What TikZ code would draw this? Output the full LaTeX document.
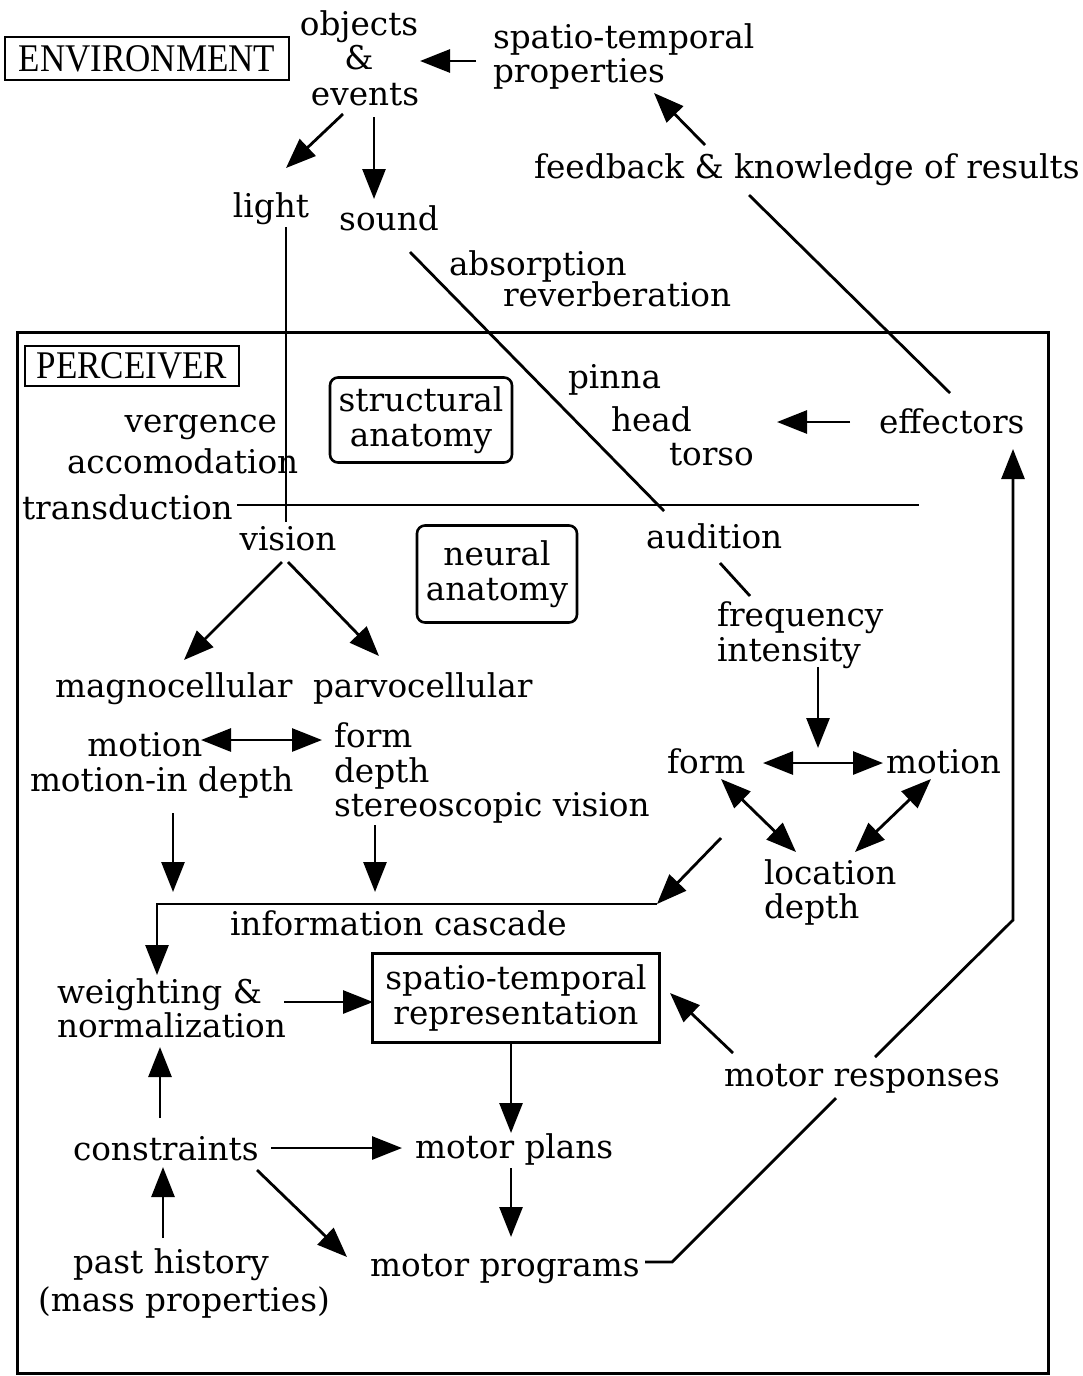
\documentclass[tikz,border=0pt]{standalone}
\usepackage{fontspec}
\setmainfont{DejaVu Serif}
\newfontfamily\capsfont{Liberation Serif}
\usetikzlibrary{arrows.meta}
\newcommand{\tallcaps}[1]{\scalebox{1}[1.12]{#1}}

\begin{document}
\begin{tikzpicture}[x=1pt,y=-1pt,
  every node/.style={inner sep=0pt, outer sep=0pt},
  lbl/.style={font=\fontsize{32.7}{35}\selectfont, text height=24pt, text depth=7pt},
  wl/.style={lbl, anchor=west},
  el/.style={lbl, anchor=east},
  cl/.style={lbl, anchor=center},
  tagbox/.style={draw, line width=2.8pt, font=\capsfont\fontsize{35}{38}\selectfont},
  anabox/.style={draw, line width=2.6pt, rounded corners=8pt, align=center,
                 font=\fontsize{32.7}{35}\selectfont},
  repbox/.style={draw, line width=3pt, align=center, font=\fontsize{32.7}{35}\selectfont},
  link/.style={line width=2.8pt},
  arr/.style={link, -{Triangle[length=30pt,width=23pt]}},
  darr/.style={link, {Triangle[length=30pt,width=23pt]}-{Triangle[length=30pt,width=23pt]}},
]
\fill[white] (0,0) rectangle (1083,1376);
\useasboundingbox (0,0) rectangle (1083,1376);

% ---------- environment ----------
\node[tagbox, minimum width=284pt, minimum height=43pt] (env) at (147,58.5) {\tallcaps{ENVIRONMENT}};
\node[cl] (objects) at (359,27) {objects};
\node[cl] (amp) at (359,61) {\&};
\node[cl] (events) at (365,97) {events};
\node[wl] (sp1) at (493,40) {spatio-temporal};
\node[wl] (sp2) at (493,74) {properties};
\node[wl] (fb) at (534,170) {feedback \& knowledge of results};
\node[cl] (light) at (271,209) {light};
\node[cl] (sound) at (389,222) {sound};
\node[wl] (absorp) at (449,267) {absorption};
\node[wl] (reverb) at (503,298) {reverberation};

% ---------- perceiver ----------
\draw[line width=3pt] (17,332) rectangle (1048,1373);
\node[tagbox, minimum width=214pt, minimum height=40pt] (perc) at (132,366) {\tallcaps{PERCEIVER}};
\node[anabox, minimum width=182pt, minimum height=85pt] (struct) at (421,420) {structural\\anatomy};
\node[el] (verg) at (277,424) {vergence};
\node[wl] (accom) at (67,465) {accomodation};
\node[wl] (transd) at (22,511) {transduction};
\node[wl] (pinna) at (568,380) {pinna};
\node[wl] (head) at (611,423) {head};
\node[wl] (torso) at (669,457) {torso};
\node[wl] (effect) at (879,425) {effectors};

\node[cl] (vision) at (288,542) {vision};
\node[anabox, minimum width=160pt, minimum height=97pt] (neural) at (497,574) {neural\\anatomy};
\node[wl] (audition) at (646,540) {audition};
\node[wl] (freq) at (717,618) {frequency};
\node[wl] (inten) at (717,653) {intensity};
\node[wl] (magno) at (55,689) {magnocellular};
\node[wl] (parvo) at (313,689) {parvocellular};

\node[cl] (motion) at (145,748) {motion};
\node[wl] (mid) at (30,783) {motion-in depth};
\node[wl] (form) at (334,739) {form};
\node[wl] (depth) at (334,774) {depth};
\node[wl] (stereo) at (334,808) {stereoscopic vision};
\node[wl] (aform) at (667,765) {form};
\node[wl] (amotion) at (886,765) {motion};
\node[wl] (loc) at (764,876) {location};
\node[wl] (adepth) at (764,910) {depth};

\node[wl] (cascade) at (230,927) {information cascade};
\node[wl] (weight) at (57,995) {weighting \&};
\node[wl] (norm) at (57,1029) {normalization};
\node[repbox, minimum width=287pt, minimum height=89pt] (rep) at (516,998) {spatio-temporal\\representation};
\node[wl] (mresp) at (724,1078) {motor responses};
\node[wl] (constr) at (73,1152) {constraints};
\node[wl] (mplans) at (415,1150) {motor plans};
\node[wl] (past) at (73,1265) {past history};
\node[wl] (mass) at (38,1303) {(mass properties)};
\node[wl] (mprog) at (370,1268) {motor programs};

% ---------- connector end points ----------
\coordinate (sp-w) at (476,61);   \coordinate (amp-e) at (420,61);
\coordinate (fb-n) at (705,145);  \coordinate (sp2-s) at (654,93);
\coordinate (ev-sw) at (343,114); \coordinate (light-n) at (286,168);
\coordinate (ev-s) at (374,117);  \coordinate (sound-n) at (374,199);
\coordinate (light-s) at (286,227); \coordinate (vision-n) at (286,522);
\coordinate (sound-se) at (410,252); \coordinate (aud-n) at (664,511);
\coordinate (fb-s) at (749,195);  \coordinate (eff-nw) at (950,393);
\coordinate (eff-w) at (850,422); \coordinate (head-e) at (777,422);
\coordinate (td-a) at (237,505);  \coordinate (td-b) at (919,505);
\coordinate (aud-s) at (720,563); \coordinate (freq-n) at (750,596);
\coordinate (vis-sw) at (282,562); \coordinate (magno-n) at (184,660);
\coordinate (vis-se) at (288,562); \coordinate (parvo-n) at (379,656);
\coordinate (mot-e) at (201,740); \coordinate (form-w) at (322,740);
\coordinate (mid-s) at (173,813); \coordinate (casc-a) at (173,892);
\coordinate (st-s) at (375,825);  \coordinate (casc-b) at (375,892);
\coordinate (int-s) at (818,667); \coordinate (fm-mid) at (818,748);
\coordinate (af-e) at (763,763);  \coordinate (am-w) at (883,763);
\coordinate (af-s) at (721,779);  \coordinate (loc-nw) at (796,852);
\coordinate (am-s) at (931,779);  \coordinate (loc-ne) at (855,852);
\coordinate (loc-w) at (721,838); \coordinate (casc-e) at (657,904);
\coordinate (casc-w) at (157,904); \coordinate (weight-n) at (157,975);
\coordinate (weight-e) at (284,1002); \coordinate (rep-w) at (373,1002);
\coordinate (mr-nw) at (733,1053); \coordinate (rep-e) at (670,993);
\coordinate (rep-s) at (511,1042); \coordinate (mp-n) at (511,1133);
\coordinate (con-e) at (271,1148); \coordinate (mp-w) at (402,1148);
\coordinate (con-n) at (160,1118); \coordinate (norm-s) at (160,1047);
\coordinate (past-n) at (163,1238); \coordinate (con-s) at (163,1167);
\coordinate (con-se) at (257,1170); \coordinate (prog-nw) at (347,1257);
\coordinate (mp-s) at (511,1168); \coordinate (prog-n) at (511,1237);
\coordinate (prog-e) at (645,1262); \coordinate (prog-k) at (672,1262);
\coordinate (mr-sw) at (836,1098);
\coordinate (mr-ne) at (875,1057); \coordinate (up-k) at (1013,920);
\coordinate (eff-s) at (1013,449);

% ---------- connectors ----------
\draw[arr] (sp-w) -- (amp-e);
\draw[arr] (fb-n) -- (sp2-s);
\draw[arr] (ev-sw) -- (light-n);
\draw[arr] (ev-s) -- (sound-n);
\draw[link] (light-s) -- (vision-n);
\draw[link] (sound-se) -- (aud-n);
\draw[link] (fb-s) -- (eff-nw);
\draw[arr] (eff-w) -- (head-e);
\draw[link] (td-a) -- (td-b);
\draw[link] (aud-s) -- (freq-n);
\draw[arr] (vis-sw) -- (magno-n);
\draw[arr] (vis-se) -- (parvo-n);
\draw[darr] (mot-e) -- (form-w);
\draw[arr] (mid-s) -- (casc-a);
\draw[arr] (st-s) -- (casc-b);
\draw[arr] (int-s) -- (fm-mid);
\draw[darr] (af-e) -- (am-w);
\draw[darr] (af-s) -- (loc-nw);
\draw[darr] (am-s) -- (loc-ne);
\draw[arr] (loc-w) -- (casc-e);
\draw[arr] (casc-e) -- (casc-w) -- (weight-n);
\draw[arr] (weight-e) -- (rep-w);
\draw[arr] (mr-nw) -- (rep-e);
\draw[arr] (rep-s) -- (mp-n);
\draw[arr] (con-e) -- (mp-w);
\draw[arr] (con-n) -- (norm-s);
\draw[arr] (past-n) -- (con-s);
\draw[arr] (con-se) -- (prog-nw);
\draw[arr] (mp-s) -- (prog-n);
\draw[link] (prog-e) -- (prog-k) -- (mr-sw);
\draw[arr] (mr-ne) -- (up-k) -- (eff-s);
\end{tikzpicture}
\end{document}
